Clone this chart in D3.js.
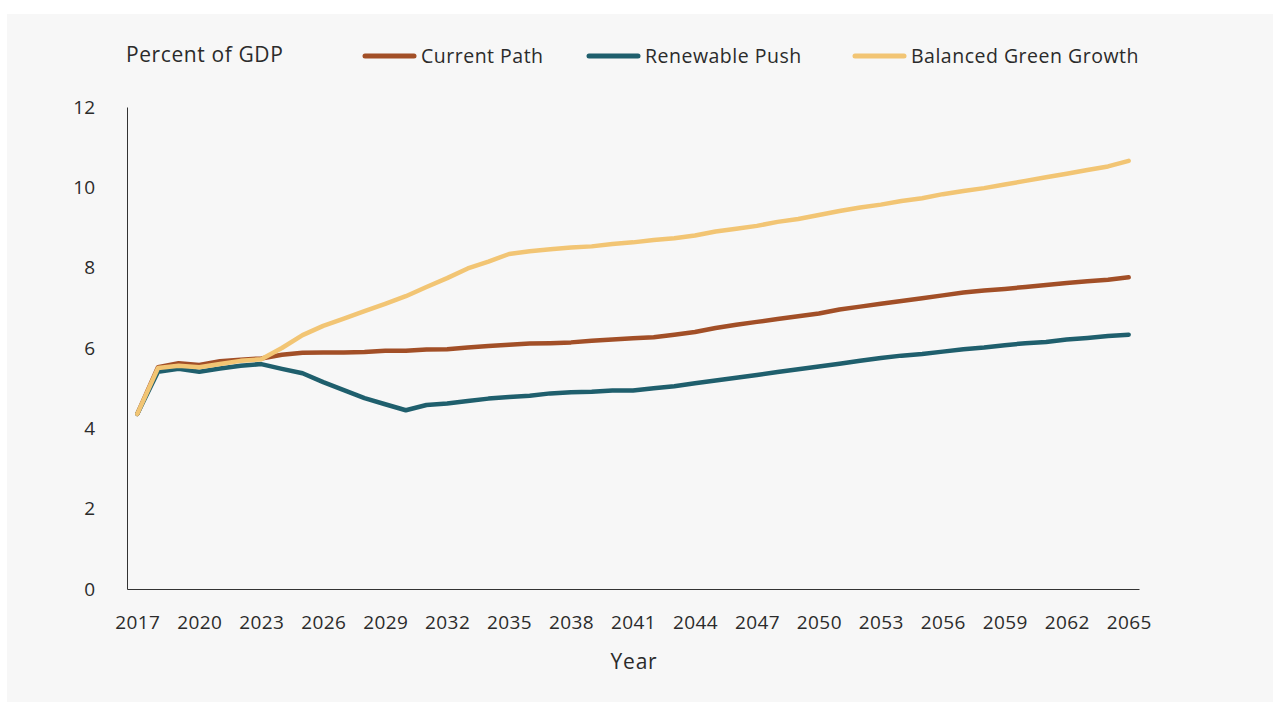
<!DOCTYPE html>
<html>
<head>
<meta charset="utf-8">
<script src="https://cdn.jsdelivr.net/npm/d3@7"></script>
<style>
  html, body { margin: 0; padding: 0; background: #ffffff; }
  svg { display: block; font-family: "Open Sans", "Lato", sans-serif; }
</style>
</head>
<body>
<svg id="chart" width="1281" height="709"></svg>
<script>
// Years 2017–2065
const years = d3.range(2017, 2066);

const currentPath = [
  4.36, 5.52, 5.62, 5.58, 5.67, 5.71, 5.74, 5.83, 5.88, 5.89,
  5.89, 5.90, 5.93, 5.93, 5.96, 5.97, 6.01, 6.05, 6.08, 6.11,
  6.12, 6.14, 6.18, 6.21, 6.24, 6.27, 6.33, 6.40, 6.50, 6.58,
  6.65, 6.72, 6.79, 6.86, 6.96, 7.03, 7.10, 7.17, 7.24, 7.31,
  7.38, 7.43, 7.47, 7.52, 7.57, 7.62, 7.66, 7.70, 7.76
];

const renewablePush = [
  4.36, 5.41, 5.48, 5.41, 5.49, 5.56, 5.60, 5.48, 5.37, 5.15,
  4.95, 4.75, 4.60, 4.45, 4.58, 4.62, 4.68, 4.74, 4.78, 4.81,
  4.87, 4.90, 4.91, 4.94, 4.94, 5.00, 5.05, 5.12, 5.19, 5.26,
  5.33, 5.40, 5.47, 5.54, 5.61, 5.68, 5.75, 5.81, 5.85, 5.91,
  5.97, 6.01, 6.07, 6.12, 6.15, 6.21, 6.25, 6.30, 6.33
];

const balancedGreen = [
  4.36, 5.50, 5.56, 5.52, 5.60, 5.68, 5.72, 6.00, 6.32, 6.55,
  6.73, 6.92, 7.10, 7.29, 7.52, 7.74, 7.98, 8.15, 8.34, 8.41,
  8.46, 8.50, 8.53, 8.59, 8.63, 8.69, 8.73, 8.80, 8.90, 8.97,
  9.04, 9.14, 9.21, 9.31, 9.41, 9.50, 9.57, 9.66, 9.73, 9.83,
  9.91, 9.98, 10.07, 10.16, 10.25, 10.34, 10.43, 10.52, 10.66
];

const seriesNames = ["Current Path", "Renewable Push", "Balanced Green Growth"];
const seriesColors = ["#a24f27", "#1f5f6d", "#f2c574"];
const yTicks = [0, 2, 4, 6, 8, 10, 12];
const xTickYears = d3.range(2017, 2066, 3);
</script>
<script>
const svg = d3.select("#chart");
const textColor = "#2b2b2b";

// Panel background
svg.append("rect")
  .attr("x", 7).attr("y", 14)
  .attr("width", 1266).attr("height", 688)
  .attr("fill", "#f7f7f7");

const plot = { left: 127, right: 1139, top: 107, bottom: 589 };

const x = d3.scalePoint()
  .domain(years)
  .range([plot.left, plot.right])
  .padding(0.5);

const y = d3.scaleLinear()
  .domain([0, 12])
  .range([plot.bottom, plot.top]);

// Y axis
const yAxis = svg.append("g")
  .attr("transform", `translate(${plot.left},0)`)
  .call(d3.axisLeft(y).tickValues(yTicks).tickSize(0).tickPadding(32).tickFormat(d3.format("d")));
yAxis.select(".domain").attr("stroke", "#333").attr("stroke-width", 1);
yAxis.selectAll("text")
  .attr("fill", textColor)
  .style("font-size", "19px")
  .style("font-family", "'Open Sans', sans-serif");

// X axis
const xAxis = svg.append("g")
  .attr("transform", `translate(0,${plot.bottom})`)
  .call(d3.axisBottom(x).tickValues(xTickYears).tickSize(0).tickPadding(27));
xAxis.select(".domain").attr("stroke", "#333").attr("stroke-width", 1);
xAxis.selectAll("text")
  .attr("fill", textColor)
  .style("font-size", "19px")
  .style("letter-spacing", "0.4px")
  .style("font-family", "'Open Sans', sans-serif");

// Axis titles
svg.append("text")
  .attr("x", 126).attr("y", 62)
  .attr("fill", textColor)
  .style("font-size", "21px")
  .style("letter-spacing", "0.6px")
  .text("Percent of GDP");

svg.append("text")
  .attr("x", (plot.left + plot.right) / 2 + 1).attr("y", 669)
  .attr("text-anchor", "middle")
  .attr("fill", textColor)
  .style("font-size", "21px")
  .style("letter-spacing", "0.8px")
  .text("Year");

// Lines
const allSeries = [currentPath, renewablePush, balancedGreen];
const line = d3.line()
  .x((d, i) => x(years[i]))
  .y(d => y(d));

svg.append("g").selectAll("path")
  .data(allSeries)
  .join("path")
  .attr("d", d => line(d))
  .attr("fill", "none")
  .attr("stroke", (d, i) => seriesColors[i])
  .attr("stroke-width", 4.5)
  .attr("stroke-linejoin", "round")
  .attr("stroke-linecap", "round");

// Legend
const legendX = [365, 589, 855];
const legend = svg.append("g");
seriesNames.forEach((name, i) => {
  legend.append("line")
    .attr("x1", legendX[i]).attr("x2", legendX[i] + 49)
    .attr("y1", 56).attr("y2", 56)
    .attr("stroke", seriesColors[i])
    .attr("stroke-width", 5)
    .attr("stroke-linecap", "round");
  legend.append("text")
    .attr("x", legendX[i] + 56).attr("y", 63)
    .attr("fill", textColor)
    .style("font-size", "19.5px")
    .style("letter-spacing", "0.5px")
    .text(name);
});
</script>
</body>
</html>
